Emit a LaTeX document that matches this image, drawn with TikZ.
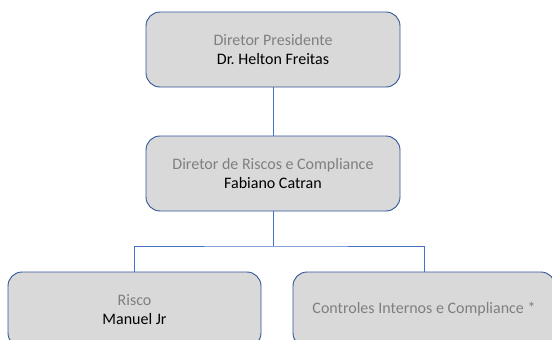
\documentclass[tikz,border=0pt]{standalone}
\usepackage{fontspec}
\setmainfont{Carlito}
\frenchspacing
\definecolor{boxblue}{HTML}{2F5597}
\definecolor{boxfill}{HTML}{D9D9D9}
\definecolor{linkblue}{HTML}{4472C4}
\definecolor{titlegray}{HTML}{7F7F7F}
\tikzset{
  orgbox/.style={draw=boxblue, fill=boxfill, line width=0.9pt, rounded corners=14pt,
    minimum height=75pt, inner sep=0pt, align=center,
    font=\fontsize{16}{19}\selectfont},
  link/.style={draw=linkblue, line width=0.9pt}
}
\newcommand{\boxtitle}[1]{\textcolor{titlegray}{#1}}
\begin{document}
\begin{tikzpicture}[x=1pt,y=-1pt]
\useasboundingbox (0,0) rectangle (552,340);
\node[orgbox, minimum width=254pt] (top) at (273,49.5) {\boxtitle{Diretor Presidente}\\Dr.\ Helton Freitas};
\node[orgbox, minimum width=254pt] (mid) at (273,173.5) {\boxtitle{Diretor de Riscos e Compliance}\\Fabiano Catran};
\node[orgbox, minimum width=253pt] (left) at (134.5,309.5) {\boxtitle{Risco}\\Manuel Jr};
\node[orgbox, minimum width=262pt] (right) at (424,309.5) {\boxtitle{Controles Internos e Compliance *}};
\coordinate (bus) at (273,246);
\draw[link] (top) -- (mid);
\draw[link] (mid) -- (bus);
\draw[link] (left.north) |- (bus) -| (right.north);
\end{tikzpicture}
\end{document}
